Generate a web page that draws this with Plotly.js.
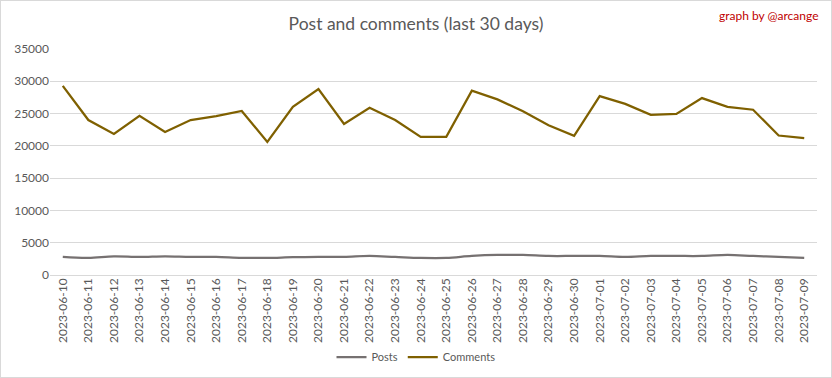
<!DOCTYPE html>
<html>
<head>
<meta charset="utf-8">
<script src="https://cdn.plot.ly/plotly-3.0.1.min.js"></script>
<style>
html,body{margin:0;padding:0;background:#fff;}
#wrap{width:832px;height:378px;box-sizing:border-box;border:1px solid #d9d9d9;}
#chart{width:830px;height:376px;}
</style>
</head>
<body>
<div id="wrap"><div id="chart"></div></div>
<script>
const dates = ["2023-06-10","2023-06-11","2023-06-12","2023-06-13","2023-06-14","2023-06-15","2023-06-16","2023-06-17","2023-06-18","2023-06-19","2023-06-20","2023-06-21","2023-06-22","2023-06-23","2023-06-24","2023-06-25","2023-06-26","2023-06-27","2023-06-28","2023-06-29","2023-06-30","2023-07-01","2023-07-02","2023-07-03","2023-07-04","2023-07-05","2023-07-06","2023-07-07","2023-07-08","2023-07-09"];
const posts = [2800,2650,2900,2800,2900,2800,2800,2650,2650,2750,2800,2800,2950,2800,2650,2650,2950,3100,3100,2950,2950,2950,2800,2950,2950,2950,3100,2950,2800,2650];
const comments = [29300,24000,21850,24650,22150,24000,24600,25400,20600,26050,28800,23400,25900,24000,21400,21400,28550,27200,25350,23200,21550,27700,26500,24800,24950,27400,26050,25600,21600,21200];

const font = "Lato, 'Open Sans', sans-serif";
const data = [
  {x: dates, y: posts, name: "Posts", type: "scatter", mode: "lines",
   line: {color: "#767171", width: 2.25, shape: "spline"}},
  {x: dates, y: comments, name: "Comments", type: "scatter", mode: "lines",
   line: {color: "#7f6000", width: 2.25}}
];
const layout = {
  width: 830, height: 376,
  margin: {l: 49, r: 14, t: 48, b: 102},
  paper_bgcolor: "#fff", plot_bgcolor: "#fff",
  font: {family: font, color: "#595959"},
  title: {text: "Post and comments (last 30 days)", font: {size: 17.5, color: "#595959", family: font},
          x: 0.5, xanchor: "center", y: 0.94, yanchor: "middle"},
  showlegend: true,
  legend: {orientation: "h", x: 0.5, xanchor: "center", xref: "container", yref: "container", y: 0.053, yanchor: "middle",
           font: {size: 11, color: "#595959"}},
  xaxis: {type: "category", range: [-0.5, 29.5], tickangle: -90, automargin: false,
          tickfont: {size: 12, color: "#595959"}, showgrid: false, zeroline: false,
          showline: false, ticks: "", ticklen: 0},
  yaxis: {range: [0, 35000], dtick: 5000, tickformat: "d", showgrid: true, gridcolor: "#d9d9d9",
          gridwidth: 1, zeroline: true, zerolinecolor: "#d9d9d9", zerolinewidth: 1, automargin: false,
          tickfont: {size: 12, color: "#595959"}, ticks: "", ticklen: 0},
  annotations: [{text: "graph by @arcange", xref: "paper", yref: "paper", x: 1.005, y: 1.15,
                 xanchor: "right", yanchor: "middle", showarrow: false,
                 font: {size: 12, color: "#c00000", family: font}}]
};
Plotly.newPlot("chart", data, layout, {displayModeBar: false, staticPlot: true});
</script>
</body>
</html>
